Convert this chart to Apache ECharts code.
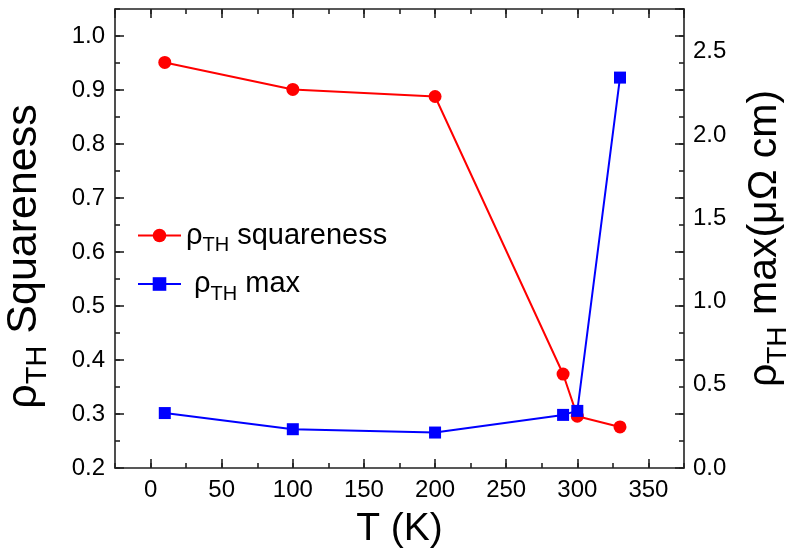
<!DOCTYPE html>
<html>
<head>
<meta charset="utf-8">
<script src="https://cdn.jsdelivr.net/npm/echarts@6/dist/echarts.min.js"></script>
<style>html,body{margin:0;padding:0;background:#fff}#c{width:787px;height:559px}</style>
</head>
<body>
<div id="c"></div>
<script>
// Data
const temps = [10, 100, 200, 290, 300, 330];
const squareness = [0.951, 0.901, 0.888, 0.374, 0.296, 0.276];
const rhoMax = [0.33, 0.233, 0.213, 0.319, 0.343, 2.345];
const seriesNames = ['squareness', 'max'];

const FF = '"Liberation Sans", Arial, sans-serif';
const AX = '#222';
const chart = echarts.init(document.getElementById('c'), null, {renderer: 'canvas'});

function pts(ys) { return temps.map((t, i) => [t, ys[i]]); }

const xMin = -25, xMax = 375;
const yMin = 0.2, yMax = 1.05;
const y2Min = 0, y2Max = 2.757;

const lineStyle = {color: AX, width: 1.6};
const axLine = {show: true, onZero: false, lineStyle: lineStyle};
const noLine = {show: false, onZero: false};
const richTitleL = {
  m: {fontSize: 43, fontFamily: FF, color: '#000', lineHeight: 56},
  s: {fontSize: 29, fontFamily: FF, color: '#000', lineHeight: 56, verticalAlign: 'bottom'}
};
const richTitleR = {
  m: {fontSize: 41, fontFamily: FF, color: '#000', lineHeight: 54},
  s: {fontSize: 28, fontFamily: FF, color: '#000', lineHeight: 54, verticalAlign: 'bottom'}
};
const richLeg = {
  m: {fontSize: 29, fontFamily: FF, color: '#000', lineHeight: 40},
  s: {fontSize: 20, fontFamily: FF, color: '#000', lineHeight: 40, verticalAlign: 'bottom'}
};
const tickLab = {fontSize: 24, fontFamily: FF, color: '#000'};

const option = {
  animation: false,
  backgroundColor: '#fff',
  grid: {left: 115, right: 103, top: 9, bottom: 91, containLabel: false, outerBoundsMode: 'none'},
  legend: {
    orient: 'vertical', left: 137, top: 221, padding: 0, itemWidth: 43, itemHeight: 17, itemGap: 14,
    data: seriesNames,
    textStyle: {rich: richLeg},
    formatter: function (n) {
      return n === 'squareness' ? '{m|ρ}{s|TH}{m| squareness}' : '{m| ρ}{s|TH}{m| max}';
    }
  },
  xAxis: [
    {type: 'value', min: xMin, max: xMax, splitNumber: 8, position: 'bottom',
     name: 'T (K)', nameLocation: 'middle', nameGap: 42,
     nameTextStyle: {fontSize: 39, fontFamily: FF, color: '#000'},
     axisLine: axLine,
     axisTick: {show: true, inside: true, length: 9, lineStyle: lineStyle},
     axisLabel: Object.assign({show: true, margin: 10, showMinLabel: false, showMaxLabel: false}, tickLab),
     splitLine: {show: false}},
    {type: 'value', min: xMin, max: xMax, interval: 25, position: 'bottom',
     axisLine: noLine, axisTick: {show: true, inside: true, length: 5, lineStyle: lineStyle},
     axisLabel: {show: false}, splitLine: {show: false}},
    {type: 'value', min: xMin, max: xMax, splitNumber: 8, position: 'top',
     axisLine: axLine,
     axisTick: {show: true, inside: true, length: 9, lineStyle: lineStyle},
     axisLabel: {show: false}, splitLine: {show: false}},
    {type: 'value', min: xMin, max: xMax, interval: 25, position: 'top',
     axisLine: noLine, axisTick: {show: true, inside: true, length: 5, lineStyle: lineStyle},
     axisLabel: {show: false}, splitLine: {show: false}}
  ],
  yAxis: [
    {type: 'value', min: yMin, max: yMax, splitNumber: 8, position: 'left',
     name: '{m|ρ}{s|TH}{m| Squareness}', nameLocation: 'middle', nameRotate: 90, nameGap: 63,
     nameTextStyle: {rich: richTitleL, padding: [0, 36, 0, 0]},
     axisLine: axLine,
     axisTick: {show: true, inside: true, length: 9, lineStyle: lineStyle},
     axisLabel: Object.assign({show: true, margin: 10, showMaxLabel: false, formatter: v => v.toFixed(1)}, tickLab),
     splitLine: {show: false}},
    {type: 'value', min: yMin, max: yMax, interval: 0.05, position: 'left',
     axisLine: noLine, axisTick: {show: true, inside: true, length: 5, lineStyle: lineStyle},
     axisLabel: {show: false}, splitLine: {show: false}},
    {type: 'value', min: yMin, max: yMax, splitNumber: 8, position: 'right',
     axisLine: axLine,
     axisTick: {show: true, inside: true, length: 9, lineStyle: lineStyle},
     axisLabel: {show: false}, splitLine: {show: false}},
    {type: 'value', min: yMin, max: yMax, interval: 0.05, position: 'right',
     axisLine: noLine, axisTick: {show: true, inside: true, length: 5, lineStyle: lineStyle},
     axisLabel: {show: false}, splitLine: {show: false}},
    {type: 'value', min: y2Min, max: y2Max, interval: 0.5, position: 'right',
     name: '{m|ρ}{s|TH}{m| max(μΩ cm)}', nameLocation: 'middle', nameRotate: 90, nameGap: 54,
     nameTextStyle: {rich: richTitleR},
     axisLine: noLine, axisTick: {show: false},
     axisLabel: Object.assign({show: true, margin: 9, showMaxLabel: false, formatter: v => v.toFixed(1)}, tickLab),
     splitLine: {show: false}}
  ],
  series: [
    {name: 'squareness', type: 'line', xAxisIndex: 0, yAxisIndex: 0, data: pts(squareness),
     symbol: 'circle', symbolSize: 13, itemStyle: {color: '#ff0000'},
     lineStyle: {color: '#ff0000', width: 2}},
    {name: 'max', type: 'line', xAxisIndex: 0, yAxisIndex: 4, data: pts(rhoMax),
     symbol: 'rect', symbolSize: 12, itemStyle: {color: '#0000ff'},
     lineStyle: {color: '#0000ff', width: 2}}
  ]
};
chart.setOption(option);
</script>
</body>
</html>
